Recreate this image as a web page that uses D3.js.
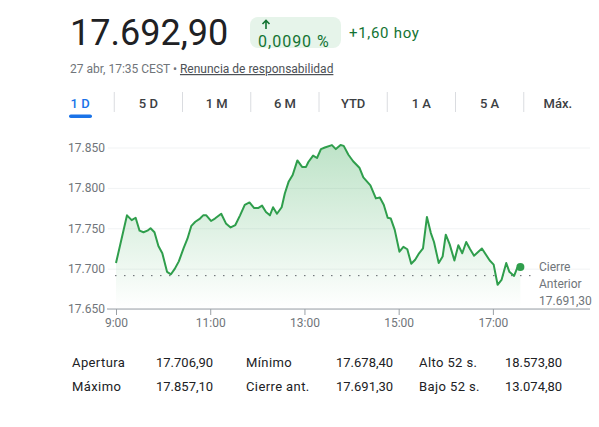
<!DOCTYPE html>
<html>
<head>
<meta charset="utf-8">
<script src="https://cdn.jsdelivr.net/npm/d3@7"></script>
<style>
  body { margin: 0; background: #fff; font-family: Roboto, Arial, sans-serif; }
  svg text { font-family: Roboto, Arial, sans-serif; }
</style>
</head>
<body>
<div id="chart"></div>
<script>
var width = 599, height = 427;

// data
var times = ["9:00","9:14","9:20","9:25","9:30","9:35","9:40","9:44","9:49","9:54","9:59",
  "10:05","10:10","10:15","10:20","10:26","10:31","10:36","10:41","10:47","10:51","10:55",
  "11:01","11:06","11:14","11:20","11:26","11:32","11:38","11:44","11:50","11:56",
  "12:01","12:06","12:11","12:16","12:20","12:25","12:31","12:35","12:40","12:45","12:51","12:57",
  "13:02","13:05","13:11","13:16","13:21","13:26","13:35","13:40","13:46","13:50","13:56",
  "14:02","14:10","14:15","14:24","14:31","14:36","14:41","14:46","14:50","14:55",
  "15:01","15:06","15:11","15:16","15:21","15:26","15:31","15:36","15:41","15:45","15:51","15:56",
  "16:00","16:05","16:11","16:16","16:21","16:26","16:31","16:36","16:46","16:56",
  "17:01","17:06","17:11","17:17","17:21","17:27","17:31","17:35"];
var prices = [17706.9,17766,17760,17763,17747,17745,17747,17750,17745,17728,17719,
  17696,17693,17700,17709,17725,17737,17753,17758,17762,17766,17766,
  17759,17762,17768,17756,17751,17754,17766,17779,17782,17775,
  17775,17778,17770,17766,17776,17768,17776,17793,17808,17816,17834,17826,
  17826,17832,17840,17837,17848,17850,17853,17848,17853,17852,17841,
  17833,17825,17813,17803,17787,17788,17779,17763,17762,17748,
  17721,17727,17724,17706,17711,17719,17725,17764,17744,17733,17707,17715,
  17742,17730,17710,17729,17719,17733,17724,17716,17725,17710,
  17705,17680,17686,17707,17696,17691,17701,17702];

var prevClose = 17691.3;
var yTicks = [17650, 17700, 17750, 17800, 17850];
var xTickTimes = ["9:00", "11:00", "13:00", "15:00", "17:00"];
var tabs = ["1 D", "5 D", "1 M", "6 M", "YTD", "1 A", "5 A", "Máx."];
var statLabels = [["Apertura", "Máximo"], ["Mínimo", "Cierre ant."], ["Alto 52 s.", "Bajo 52 s."]];
var statValues = [[17706.90, 17857.10], [17678.40, 17691.30], [18573.80, 13074.80]];

var es = d3.formatLocale({decimal: ",", thousands: ".", grouping: [3], currency: ["", " €"]});
var fmt0 = es.format(",.0f"), fmt2 = es.format(",.2f");

function toMin(s) { var p = s.split(":"); return +p[0] * 60 + +p[1]; }
var data = times.map(function(t, i) { return {t: toMin(t), v: prices[i]}; });

var green = "#2f9e4c";
var svg = d3.select("#chart").append("svg")
    .attr("width", width)
    .attr("height", height);

// header
svg.append("text")
    .attr("x", 70).attr("y", 45)
    .style("font-size", "36px")
    .attr("fill", "#202124")
    .text(fmt2(17692.90));

svg.append("rect")
    .attr("x", 250).attr("y", 17).attr("width", 91).attr("height", 31).attr("rx", 8)
    .attr("fill", "#e6f4ea");
svg.append("path")
    .attr("d", "M266,29V20.5M262.5,24L266,20.5L269.5,24")
    .attr("stroke", "#137333").attr("stroke-width", 1.6).attr("fill", "none");
svg.append("text")
    .attr("x", 258).attr("y", 47)
    .style("font-size", "16px")
    .style("letter-spacing", "1px")
    .attr("fill", "#137333")
    .text("0,0090 %");
svg.append("text")
    .attr("x", 349).attr("y", 38)
    .style("font-size", "15px")
    .style("letter-spacing", "0.7px")
    .attr("fill", "#137333")
    .text("+1,60 hoy");

var sub = svg.append("text")
    .attr("x", 70).attr("y", 73)
    .style("font-size", "12px")
    .attr("fill", "#70757a");
sub.append("tspan").text("27 abr, 17:35 CEST • ");
sub.append("tspan").attr("fill", "#4d5156").style("text-decoration", "underline")
    .text("Renuncia de responsabilidad");

// tabs
var tabX = d3.scaleBand().domain(tabs).range([46, 592]);
svg.selectAll(".tab").data(tabs).enter().append("text")
    .attr("class", "tab")
    .attr("x", function(d) { return tabX(d) + tabX.bandwidth() / 2; })
    .attr("y", 108)
    .attr("text-anchor", "middle")
    .style("font-size", "13px")
    .style("font-weight", 500)
    .attr("fill", function(d, i) { return i === 0 ? "#1a73e8" : "#3c4043"; })
    .text(function(d) { return d; });
svg.selectAll(".sep").data(tabs.slice(1)).enter().append("line")
    .attr("x1", function(d) { return tabX(d); })
    .attr("x2", function(d) { return tabX(d); })
    .attr("y1", 92).attr("y2", 112)
    .attr("stroke", "#dadce0");
svg.append("rect")
    .attr("x", 69).attr("y", 114.5).attr("width", 23).attr("height", 3.5).attr("rx", 1.75)
    .attr("fill", "#1a73e8");

// scales
var x = d3.scaleLinear().domain([toMin("9:00"), toMin("18:00")]).range([116, 540]);
var y = d3.scaleLinear().domain([17650, 17850]).range([309, 147.5]);
var plotRight = 590, plotLeft = 108;

// y grid + labels
var yAxis = svg.append("g")
    .attr("transform", "translate(" + plotLeft + ",0)")
    .call(d3.axisLeft(y).tickValues(yTicks).tickFormat(fmt0)
        .tickSize(-(plotRight - plotLeft)).tickPadding(3));
yAxis.select(".domain").remove();
yAxis.selectAll("line").attr("stroke", "#f1f3f4");
yAxis.selectAll("text").attr("fill", "#70757a").style("font-size", "12px");

// area + line
var defs = svg.append("defs");
var grad = defs.append("linearGradient").attr("id", "fillGrad")
    .attr("x1", 0).attr("y1", 0).attr("x2", 0).attr("y2", 1);
grad.append("stop").attr("offset", "0%").attr("stop-color", "#34a853").attr("stop-opacity", 0.32);
grad.append("stop").attr("offset", "100%").attr("stop-color", "#34a853").attr("stop-opacity", 0);

svg.append("path")
    .datum(data)
    .attr("fill", "url(#fillGrad)")
    .attr("d", d3.area().x(function(d) { return x(d.t); }).y0(y(17650)).y1(function(d) { return y(d.v); }));

// previous close dotted line
svg.append("line")
    .attr("x1", 115).attr("x2", 538)
    .attr("y1", y(prevClose)).attr("y2", y(prevClose))
    .attr("stroke", "#5f6368").attr("stroke-width", 1)
    .attr("stroke-dasharray", "1.5,7.5");

svg.append("path")
    .datum(data)
    .attr("fill", "none")
    .attr("stroke", green)
    .attr("stroke-width", 2)
    .attr("stroke-linejoin", "round")
    .attr("d", d3.line().x(function(d) { return x(d.t); }).y(function(d) { return y(d.v); }));

var last = data[data.length - 1];
svg.append("circle")
    .attr("cx", x(last.t)).attr("cy", y(last.v)).attr("r", 4)
    .attr("fill", green);

// x axis
svg.append("line")
    .attr("x1", 107).attr("x2", plotRight)
    .attr("y1", y(17650)).attr("y2", y(17650))
    .attr("stroke", "#9aa0a6");
var xAxis = svg.append("g")
    .attr("transform", "translate(0," + y(17650) + ")")
    .call(d3.axisBottom(x).tickValues(xTickTimes.map(toMin))
        .tickFormat(function(d, i) { return xTickTimes[i]; })
        .tickSize(6).tickPadding(3));
xAxis.select(".domain").remove();
xAxis.selectAll("line").attr("stroke", "#9aa0a6");
xAxis.selectAll("text").attr("fill", "#70757a").style("font-size", "12px");

// previous close label
var pc = svg.append("text")
    .attr("x", 539).attr("y", 271)
    .style("font-size", "12px")
    .attr("fill", "#70757a");
pc.append("tspan").attr("x", 539).text("Cierre");
pc.append("tspan").attr("x", 539).attr("dy", 17).text("Anterior");
pc.append("tspan").attr("x", 539).attr("dy", 17).text(fmt2(prevClose));

// stats table
var labelX = [72, 246, 419], valueX = [156, 336, 505], rowY = [366.5, 390.5];
statLabels.forEach(function(col, c) {
  col.forEach(function(lab, r) {
    svg.append("text").attr("x", labelX[c]).attr("y", rowY[r])
        .style("font-size", "13px").style("letter-spacing", "0.4px")
        .attr("fill", "#202124").text(lab);
    svg.append("text").attr("x", valueX[c]).attr("y", rowY[r])
        .style("font-size", "13px").attr("fill", "#202124").text(fmt2(statValues[c][r]));
  });
});
</script>
</body>
</html>
